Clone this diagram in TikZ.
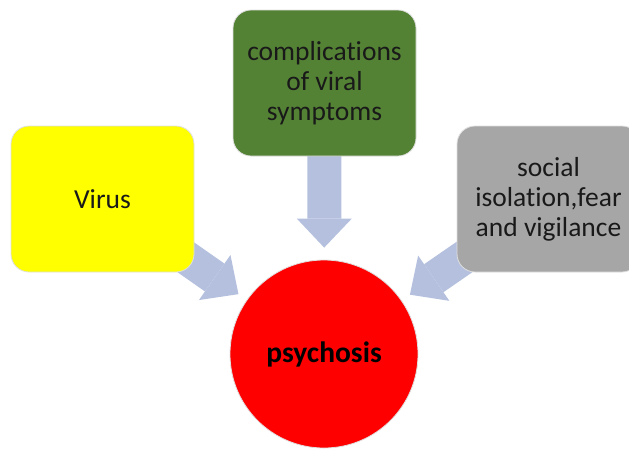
\documentclass[tikz,border=0pt]{standalone}
\usepackage{fontspec}
\setmainfont{Carlito}[Ligatures=NoCommon]
\usetikzlibrary{arrows.meta,backgrounds}
\definecolor{arrowblue}{RGB}{180,192,222}
\definecolor{boxgreen}{RGB}{84,130,53}
\definecolor{boxgray}{RGB}{166,166,166}
\definecolor{boxyellow}{RGB}{255,255,0}
\begin{document}
\begin{tikzpicture}[x=1pt,y=-1pt,
   box/.style={rounded corners=18pt, draw=gray!25, line width=0.8pt,
     minimum width=183pt, minimum height=146pt, inner sep=0pt,
     align=center, text=black!90, font=\fontsize{27.5}{30}\selectfont},
   blockarrow/.style={arrowblue, line width=34pt,
     -{Triangle[length=29pt,width=55pt,line width=0pt]}, shorten >=10pt}]
 \useasboundingbox (0,0) rectangle (629,448);
 \node (virus) [box, fill=boxyellow] at (102.5,199) {Virus};
 \node (comp) [box, fill=boxgreen] at (324.5,83) {complications\\of viral\\symptoms};
 \node (social) [box, fill=boxgray] at (548.5,199) {social\\isolation,fear\\and vigilance};
 \node (psy) [circle, fill=red, draw=gray!25, line width=0.8pt, minimum size=188pt,
   font=\fontsize{29.5}{32}\selectfont\bfseries] at (324,354) {psychosis};
 \begin{scope}[on background layer]
   \draw [blockarrow] (virus.center) -- (psy);
   \draw [blockarrow, shorten >=12pt] (comp.center) -- (psy);
   \draw [blockarrow] (social.center) -- (psy);
 \end{scope}
\end{tikzpicture}
\end{document}
